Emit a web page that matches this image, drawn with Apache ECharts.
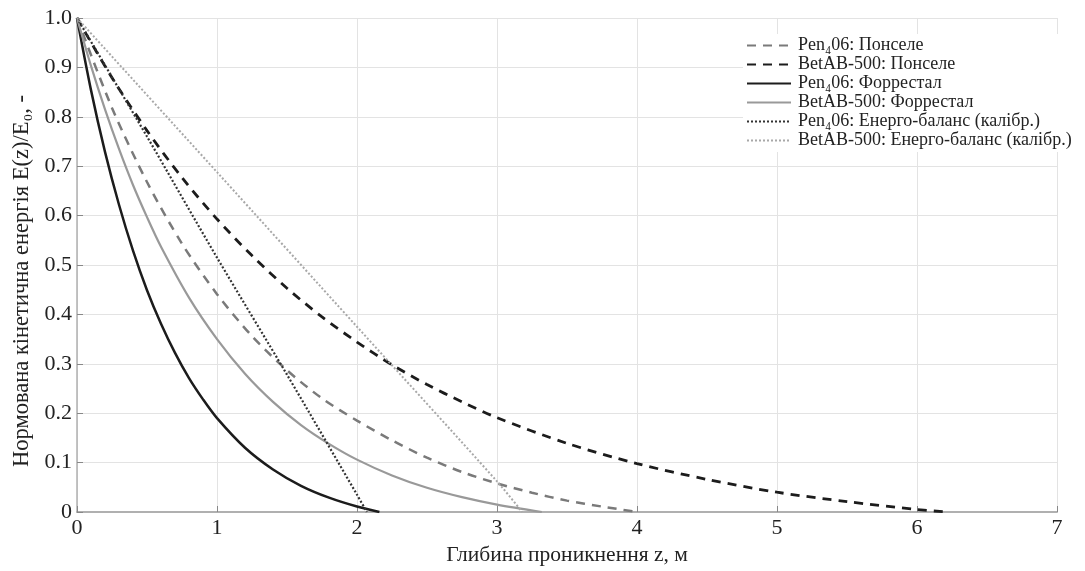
<!DOCTYPE html>
<html>
<head>
<meta charset="utf-8">
<script src="https://cdn.jsdelivr.net/npm/echarts@6/dist/echarts.min.js"></script>
<style>html,body{margin:0;padding:0;background:#fff;}#c{width:1085px;height:571px;}</style>
</head>
<body>
<div id="c"></div>
<script>
// ---- data ----
var xTicks = [0, 1, 2, 3, 4, 5, 6, 7];
var yTicks = [0, 0.1, 0.2, 0.3, 0.4, 0.5, 0.6, 0.7, 0.8, 0.9, 1.0];

var seriesNames = [
  'Pen\u208406: Понселе',
  'BetAB-500: Понселе',
  'Pen\u208406: Форрестал',
  'BetAB-500: Форрестал',
  'Pen\u208406: Енерго-баланс (калібр.)',
  'BetAB-500: Енерго-баланс (калібр.)'
];

var penPonceletZ = [0, 0.25, 0.5, 0.75, 1.0, 1.25, 1.5, 1.75, 2.0, 2.25, 2.5, 2.75, 3.0, 3.25, 3.5, 3.75, 4.0];
var penPonceletE = [1, 0.818, 0.668, 0.543, 0.441, 0.356, 0.287, 0.230, 0.185, 0.145, 0.110, 0.081, 0.058, 0.039, 0.023, 0.011, 0];

var betPonceletZ = [0, 0.25, 0.5, 0.75, 1.0, 1.25, 1.5, 1.75, 2.0, 2.25, 2.5, 2.75, 3.0, 3.5, 4.0, 4.5, 5.0, 5.5, 6.0, 6.21];
var betPonceletE = [1, 0.879, 0.772, 0.677, 0.593, 0.519, 0.453, 0.395, 0.344, 0.298, 0.258, 0.223, 0.191, 0.139, 0.098, 0.066, 0.040, 0.021, 0.005, 0];

var penForrestalZ = [0, 0.1, 0.2, 0.3, 0.4, 0.5, 0.6, 0.7, 0.8, 0.9, 1.0, 1.2, 1.4, 1.6, 1.8, 2.0, 2.16];
var penForrestalE = [1, 0.854, 0.729, 0.622, 0.529, 0.449, 0.381, 0.322, 0.271, 0.228, 0.190, 0.130, 0.086, 0.053, 0.029, 0.011, 0];

var betForrestalZ = [0, 0.1, 0.2, 0.3, 0.4, 0.5, 0.6, 0.8, 1.0, 1.2, 1.4, 1.6, 1.8, 2.0, 2.25, 2.5, 2.75, 3.0, 3.32];
var betForrestalE = [1, 0.903, 0.815, 0.735, 0.662, 0.597, 0.537, 0.434, 0.350, 0.280, 0.223, 0.176, 0.138, 0.106, 0.074, 0.049, 0.030, 0.015, 0];

var penEnergyZ = [0, 0.5, 1.0, 1.5, 2.0, 2.07];
var penEnergyE = [1, 0.760, 0.515, 0.278, 0.035, 0];

var betEnergyZ = [0, 1.0, 2.0, 3.0, 3.18];
var betEnergyE = [1, 0.688, 0.375, 0.062, 0];

function pairs(zs, es) { return zs.map(function (z, i) { return [z, es[i]]; }); }

var styles = [
  { color: '#7a7a7a', width: 2.5, type: [9, 7] },
  { color: '#1c1c1c', width: 2.8, type: [9, 7] },
  { color: '#1c1c1c', width: 2.5, type: 'solid' },
  { color: '#999999', width: 2.2, type: 'solid' },
  { color: '#333333', width: 2.2, type: [2, 2] },
  { color: '#a8a8a8', width: 2.0, type: [2, 2] }
];
var datasets = [
  pairs(penPonceletZ, penPonceletE),
  pairs(betPonceletZ, betPonceletE),
  pairs(penForrestalZ, penForrestalE),
  pairs(betForrestalZ, betForrestalE),
  pairs(penEnergyZ, penEnergyE),
  pairs(betEnergyZ, betEnergyE)
];

var font = '"Liberation Serif", "Times New Roman", serif';

var series = seriesNames.map(function (n, i) {
  return {
    name: n,
    type: 'line',
    data: datasets[i],
    smooth: 0.3,
    symbol: 'none',
    showSymbol: false,
    lineStyle: { color: styles[i].color, width: styles[i].width, type: styles[i].type },
    itemStyle: { color: styles[i].color },
    z: 3 + i
  };
});

var chart = echarts.init(document.getElementById('c'), null, { renderer: 'canvas' });
chart.setOption({
  animation: false,
  backgroundColor: '#fff',
  grid: { left: 77, right: 28, top: 18, bottom: 56 },
  legend: {
    orient: 'vertical',
    left: 743,
    top: 34,
    itemWidth: 44,
    itemHeight: 12,
    itemGap: 0,
    backgroundColor: '#fff',
    padding: [2, 3, 2, 3],
    itemStyle: { color: 'rgba(0,0,0,0)', borderColor: 'rgba(0,0,0,0)', borderWidth: 0 },
    textStyle: { fontFamily: font, fontSize: 18, lineHeight: 19, color: '#222', padding: [0, 0, 0, 2] },
    data: seriesNames
  },
  xAxis: {
    type: 'value',
    min: 0, max: 7, interval: 1,
    name: 'Глибина проникнення z, м',
    nameLocation: 'middle',
    nameGap: 32,
    nameTextStyle: { fontFamily: font, fontSize: 21.5, color: '#222' },
    axisLine: { show: true, onZero: false, lineStyle: { color: '#b0b0b0', width: 2 } },
    axisTick: { show: true, inside: true, length: 6, lineStyle: { color: '#888' } },
    axisLabel: { fontFamily: font, fontSize: 22, color: '#222', margin: 5,
      formatter: function (v) { return xTicks.indexOf(v) >= 0 ? String(v) : ''; } },
    splitLine: { show: true, lineStyle: { color: '#e3e3e3', width: 1 } }
  },
  yAxis: {
    type: 'value',
    min: 0, max: 1, interval: 0.1,
    name: 'Нормована кінетична енергія E(z)/E\u2080, -',
    nameLocation: 'middle',
    nameGap: 40,
    nameTextStyle: { fontFamily: font, fontSize: 22.5, color: '#222', padding: [0, 32, 0, 0] },
    axisLine: { show: true, lineStyle: { color: '#b0b0b0', width: 1.5 } },
    axisTick: { show: true, inside: true, length: 6, lineStyle: { color: '#888' } },
    axisLabel: { fontFamily: font, fontSize: 22, color: '#222', margin: 5,
      formatter: function (v) {
        var r = Math.round(v * 10) / 10;
        return r === 0 ? '0' : r.toFixed(1);
      } },
    splitLine: { show: true, lineStyle: { color: '#e3e3e3', width: 1 } }
  },
  series: series
});
</script>
</body>
</html>
